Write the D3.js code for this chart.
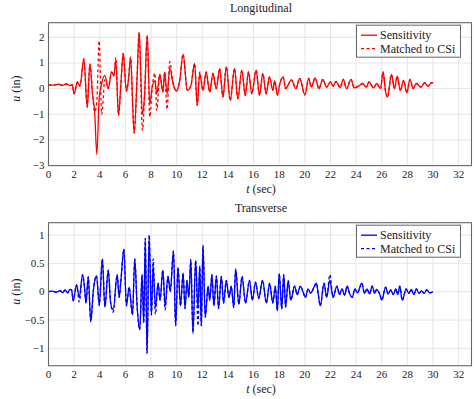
<!DOCTYPE html>
<html lang="en">
<head>
<meta charset="utf-8">
<title>Longitudinal / Transverse</title>
<script src="https://cdn.jsdelivr.net/npm/d3@7"></script>
<style>
  body { margin: 0; background: #fff; }
  text { font-family: "Liberation Serif", "DejaVu Serif", serif; fill: #222; }
</style>
</head>
<body>
<script>
// x ticks shared by both panels
const xTicks = [0, 2, 4, 6, 8, 10, 12, 14, 16, 18, 20, 22, 24, 26, 28, 30, 32]
const legendLabels = ["Sensitivity", "Matched to CSi"]

// Longitudinal: time (s) and displacement (in)
const tLong = [0, 0.4, 0.8, 1.1, 1.4, 1.7, 1.85, 2.0, 2.25, 2.45, 2.76, 3.02, 3.23, 3.45, 3.6, 3.77, 3.95, 4.15, 4.4, 4.66, 4.92, 5.1, 5.25, 5.46, 5.65, 5.83, 6.08, 6.25, 6.4, 6.68, 6.9, 7.07, 7.33, 7.5, 7.7, 7.9, 8.1, 8.3, 8.45, 8.68, 8.93, 9.06, 9.25, 9.46, 9.72, 9.98, 10.23, 10.5, 10.83, 11.1, 11.4, 11.6, 11.8, 12.05, 12.3, 12.57, 12.83, 13.09, 13.35, 13.61, 13.87, 14.18, 14.51, 14.77, 15.08, 15.35, 15.6, 15.86, 16.2, 16.46, 16.72, 16.98, 17.24, 17.5, 17.65, 17.86, 18.05, 18.3, 18.5, 18.7, 18.95, 19.3, 19.6, 20.0, 20.3, 20.5, 20.8, 21.1, 21.4, 21.7, 22.0, 22.2, 22.43, 22.75, 23.0, 23.25, 23.6, 23.85, 24.2, 24.5, 24.8, 25.0, 25.35, 25.6, 25.9, 26.1, 26.3, 26.45, 26.75, 27.0, 27.2, 27.45, 27.7, 27.95, 28.2, 28.45, 28.7, 29.05, 29.35, 29.6, 29.9, 30.0]
const uLongSens = [0.15, 0.14, 0.17, 0.13, 0.18, 0.12, 0.16, -0.2, 0.26, 0.1, 1.17, -0.72, 0.95, -0.3, -0.9, -2.57, -0.4, 0.2, 0.52, 0.0, 0.65, 0.5, 1.1, -1.04, 0.2, 1.37, -0.1, 0.4, 1.23, -1.73, 0.3, 2.19, -1.0, -0.2, 2.08, -0.6, 0.1, 0.3, -0.2, 0.55, -0.13, 0.65, -0.2, 0.8, 0.2, -0.1, 0.3, 1.34, -0.07, 0.1, 0.98, -0.65, 0.59, -0.07, 0.65, -0.13, 0.59, 0.0, 0.78, -0.33, 0.85, -0.46, 0.78, -0.4, 0.72, -0.26, 0.65, -0.2, 0.72, -0.26, 0.59, -0.2, 0.46, -0.07, 0.3, -0.25, 0.2, 0.46, 0.0, 0.15, 0.34, 0.0, 0.4, -0.24, 0.4, 0.06, 0.42, 0.0, 0.36, 0.06, 0.26, 0.1, 0.28, 0.04, 0.36, 0.0, 0.36, 0.03, 0.1, 0.2, 0.06, 0.26, 0.03, 0.2, 0.0, 0.65, -0.13, -0.33, 0.55, 0.0, 0.49, -0.07, 0.32, -0.16, 0.36, 0.0, 0.2, 0.06, 0.23, 0.1, 0.23, 0.22]
const uLongCSi = [0.15, 0.14, 0.17, 0.13, 0.18, 0.12, 0.16, -0.2, 0.26, 0.1, 1.17, -0.72, 0.95, -0.3, -0.9, -0.5, 1.86, -1.0, 0.35, 0.0, 0.65, 0.5, 1.22, -1.04, 0.2, 1.37, -0.1, 0.4, 1.23, -1.73, 0.3, 2.19, -1.63, -0.2, 2.08, -1.1, 0.1, 0.6, -0.85, 0.55, -0.13, 0.65, -0.8, 1.05, 0.2, -0.1, 0.3, 1.34, -0.07, 0.1, 0.98, -0.65, 0.65, -0.07, 0.65, -0.13, 0.59, 0.0, 0.78, -0.33, 0.85, -0.46, 0.78, -0.4, 0.72, -0.26, 0.65, -0.2, 0.72, -0.26, 0.59, -0.2, 0.46, -0.07, 0.3, -0.25, 0.2, 0.46, 0.0, 0.15, 0.34, 0.0, 0.4, -0.24, 0.4, 0.06, 0.42, 0.0, 0.36, 0.06, 0.26, 0.1, 0.28, 0.04, 0.36, 0.0, 0.36, 0.03, 0.1, 0.2, 0.06, 0.26, 0.03, 0.2, 0.0, 0.65, -0.13, -0.33, 0.55, 0.0, 0.49, -0.07, 0.32, -0.16, 0.36, 0.0, 0.2, 0.06, 0.23, 0.1, 0.23, 0.22]
const yTicksLong = [-3, -2, -1, 0, 1, 2]

// Transverse
const tTrans = [0, 0.3, 0.6, 0.9, 1.1, 1.3, 1.5, 1.65, 1.8, 1.93, 2.19, 2.4, 2.66, 2.84, 2.92, 3.1, 3.3, 3.49, 3.75, 3.96, 4.2, 4.4, 4.66, 4.85, 5.05, 5.36, 5.51, 5.65, 5.88, 6.08, 6.29, 6.55, 6.73, 6.91, 7.12, 7.3, 7.43, 7.55, 7.69, 7.85, 8.03, 8.16, 8.34, 8.55, 8.7, 8.92, 9.1, 9.32, 9.5, 9.75, 9.92, 10.1, 10.3, 10.5, 10.65, 10.8, 10.95, 11.1, 11.27, 11.48, 11.66, 11.8, 11.92, 12.05, 12.23, 12.45, 12.58, 12.75, 12.9, 13.1, 13.27, 13.48, 13.66, 13.87, 14.08, 14.26, 14.45, 14.6, 14.85, 15.1, 15.37, 15.68, 15.9, 16.15, 16.4, 16.7, 17.0, 17.25, 17.5, 17.7, 17.85, 18.0, 18.2, 18.35, 18.5, 18.7, 18.9, 19.2, 19.4, 19.65, 19.85, 20.05, 20.25, 20.45, 20.65, 20.9, 21.05, 21.2, 21.5, 21.7, 21.95, 22.2, 22.5, 22.7, 22.9, 23.1, 23.3, 23.5, 23.7, 23.9, 24.1, 24.45, 24.65, 24.85, 25.05, 25.25, 25.45, 25.6, 25.85, 26.0, 26.3, 26.5, 26.7, 26.9, 27.1, 27.25, 27.4, 27.6, 27.9, 28.1, 28.3, 28.5, 28.7, 28.9, 29.1, 29.3, 29.5, 29.75, 30.0]
const uTransSens = [0, 0.01, -0.01, 0.02, -0.02, 0.03, -0.02, 0.04, 0.03, -0.16, 0.12, -0.1, 0.3, 0.0, -0.2, 0.26, -0.53, 0.0, 0.28, -0.24, 0.58, -0.27, 0.38, -0.2, -0.32, 0.3, -0.1, 0.2, 0.75, -0.25, 0.08, -0.41, 0.58, -0.24, -0.67, 0.3, -0.55, 0.94, -1.09, 0.98, -0.41, 0.47, -0.27, 0.15, -0.15, 0.38, -0.25, 0.27, 0.0, 0.72, -0.6, 0.43, -0.25, 0.33, -0.3, 0.2, -0.1, 0.57, -0.74, 0.55, -0.3, 0.45, -0.6, 0.8, -0.45, 0.1, -0.15, 0.3, -0.25, 0.28, -0.3, 0.27, -0.2, 0.2, -0.1, 0.1, -0.28, 0.4, -0.22, 0.27, -0.2, 0.2, -0.15, 0.17, -0.12, 0.2, -0.2, 0.15, -0.2, 0.1, -0.34, 0.32, -0.3, 0.3, -0.27, 0.2, -0.15, 0.1, -0.05, 0.1, 0.0, -0.1, 0.05, -0.03, 0.05, 0.15, -0.05, -0.25, 0.15, -0.1, 0.2, -0.1, 0.1, -0.05, 0.05, -0.06, 0.1, -0.04, -0.1, 0.05, -0.02, 0.15, -0.03, 0.05, -0.04, 0.1, -0.03, 0.04, -0.05, -0.15, 0.08, -0.04, 0.03, -0.05, 0.05, -0.05, 0.1, -0.15, 0.05, -0.03, 0.04, -0.05, 0.05, -0.03, 0.02, -0.03, 0.03, -0.02, 0.0]
const uTransCSi = [0, 0.01, -0.01, 0.02, -0.02, 0.03, -0.02, 0.04, 0.03, -0.16, 0.12, -0.18, 0.3, 0.0, -0.2, 0.26, -0.53, 0.0, 0.28, -0.24, 0.58, -0.27, 0.38, -0.2, -0.36, 0.3, -0.1, 0.2, 0.75, -0.25, 0.08, -0.41, 0.58, -0.24, -0.67, 0.3, -0.55, 0.94, -1.09, 1.0, -0.41, 0.58, -0.4, 0.15, -0.15, 0.38, -0.32, 0.27, 0.0, 0.72, -0.6, 0.43, -0.25, 0.33, -0.3, 0.2, -0.1, 0.57, -0.72, 0.55, -0.6, 0.45, -0.6, 0.82, -0.45, 0.1, -0.15, 0.3, -0.25, 0.28, -0.3, 0.27, -0.2, 0.2, -0.1, 0.1, -0.28, 0.4, -0.22, 0.27, -0.2, 0.2, -0.15, 0.17, -0.12, 0.2, -0.2, 0.15, -0.2, 0.1, -0.34, 0.32, -0.3, 0.3, -0.27, 0.2, -0.15, 0.1, -0.05, 0.1, 0.0, -0.1, 0.05, -0.03, 0.05, 0.15, -0.05, -0.25, 0.15, -0.1, 0.3, -0.1, 0.1, -0.05, 0.05, -0.06, 0.1, -0.04, -0.1, 0.05, -0.02, 0.15, -0.03, 0.05, -0.04, 0.1, -0.03, 0.04, -0.05, -0.15, 0.08, -0.04, 0.03, -0.05, 0.05, -0.05, 0.1, -0.15, 0.05, -0.03, 0.04, -0.05, 0.05, -0.03, 0.02, -0.03, 0.03, -0.02, 0.0]
const yTicksTrans = [-1, -0.5, 0, 0.5, 1]

const W = 474, H = 399
const left = 48.5, right = 471.5

const svg = d3.select("body").append("svg")
    .attr("width", W)
    .attr("height", H)

function panel(opt) {
    const x = d3.scaleLinear().domain([0, 33]).range([left, right])
    const y = d3.scaleLinear().domain(opt.yDomain).range([opt.bottom, opt.top])
    const g = svg.append("g")

    // grid
    g.selectAll(".gx").data(xTicks).enter().append("line")
        .attr("x1", d => x(d)).attr("x2", d => x(d))
        .attr("y1", opt.top).attr("y2", opt.bottom)
        .attr("stroke", "#e0e0e0").attr("stroke-width", 0.8)
    g.selectAll(".gy").data(opt.yTicks).enter().append("line")
        .attr("x1", left).attr("x2", right)
        .attr("y1", d => y(d)).attr("y2", d => y(d))
        .attr("stroke", "#e0e0e0").attr("stroke-width", 0.8)

    // tick labels
    g.selectAll(".tx").data(xTicks).enter().append("text")
        .attr("x", d => x(d)).attr("y", opt.bottom + 12)
        .attr("text-anchor", "middle")
        .attr("font-size", "11px")
        .text(d => d)
    g.selectAll(".ty").data(opt.yTicks).enter().append("text")
        .attr("x", left - 4).attr("y", d => y(d) + 3.5)
        .attr("text-anchor", "end")
        .attr("font-size", "11px")
        .text(d => d3.format("")(d))

    const line = (tt, uu) => d3.line()
        .x((d, i) => x(tt[i]))
        .y(d => y(d))
        .curve(d3.curveMonotoneX)(uu)

    const clipId = "clip" + opt.name
    svg.append("clipPath").attr("id", clipId).append("rect")
        .attr("x", left).attr("y", opt.top)
        .attr("width", right - left).attr("height", opt.bottom - opt.top)

    g.append("path")
        .attr("d", line(opt.t, opt.sens))
        .attr("clip-path", "url(#" + clipId + ")")
        .attr("fill", "none").attr("stroke", opt.color).attr("stroke-width", 1.3)
    g.append("path")
        .attr("d", line(opt.t, opt.csi))
        .attr("clip-path", "url(#" + clipId + ")")
        .attr("fill", "none").attr("stroke", opt.color).attr("stroke-width", 1.3)
        .attr("stroke-dasharray", "3,2.5")

    // frame
    g.append("rect")
        .attr("x", left).attr("y", opt.top)
        .attr("width", right - left).attr("height", opt.bottom - opt.top)
        .attr("fill", "none").attr("stroke", "#666").attr("stroke-width", 1.1)

    // title and axis labels
    g.append("text")
        .attr("x", 261).attr("y", opt.top - 11)
        .attr("text-anchor", "middle").attr("font-size", "12px")
        .text(opt.title)
    const xl = g.append("text")
        .attr("x", 261).attr("y", opt.bottom + 27)
        .attr("text-anchor", "middle").attr("font-size", "12px")
    xl.append("tspan").attr("font-style", "italic").text("t")
    xl.append("tspan").text(" (sec)")
    const yl = g.append("text")
        .attr("transform", "translate(20," + y(0) + ") rotate(-90)")
        .attr("text-anchor", "middle").attr("font-size", "12px")
    yl.append("tspan").attr("font-style", "italic").text("u")
    yl.append("tspan").text(" (in)")

    // legend
    const lg = g.append("g").attr("transform", "translate(356.5," + (opt.top + 2.5) + ")")
    lg.append("rect")
        .attr("width", 104).attr("height", 32)
        .attr("fill", "white").attr("stroke", "#666").attr("stroke-width", 1)
    legendLabels.forEach((lab, i) => {
        const yy = 10 + i * 13.5
        lg.append("line")
            .attr("x1", 4.5).attr("x2", 20.5).attr("y1", yy).attr("y2", yy)
            .attr("stroke", opt.color).attr("stroke-width", 1.3)
            .attr("stroke-dasharray", i === 1 ? "3,2.5" : null)
        lg.append("text")
            .attr("x", 23.5).attr("y", yy + 4)
            .attr("font-size", "12px")
            .text(lab)
    })
}

panel({name: "L", title: "Longitudinal", top: 22.7, bottom: 165.6, yDomain: [-3, 2.57],
       yTicks: yTicksLong, t: tLong, sens: uLongSens, csi: uLongCSi, color: "#ff0000"})
panel({name: "T", title: "Transverse", top: 222.7, bottom: 365.7, yDomain: [-1.305, 1.217],
       yTicks: yTicksTrans, t: tTrans, sens: uTransSens, csi: uTransCSi, color: "#0000ff"})
</script>
</body>
</html>
